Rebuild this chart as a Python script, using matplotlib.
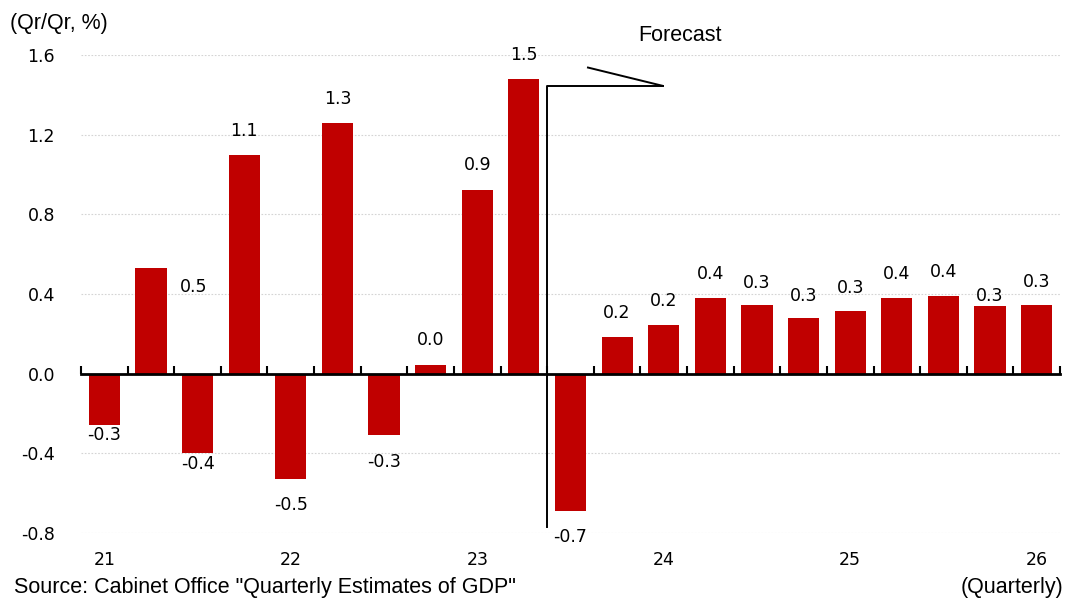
import numpy as np
import matplotlib.pyplot as plt

# Quarterly GDP growth (Qr/Qr, %), 2021 Q1 .. 2026 Q1
values = [-0.26, 0.53, -0.40, 1.10, -0.53, 1.26, -0.31, 0.045, 0.92, 1.48,
          -0.69, 0.186, 0.246, 0.381, 0.346, 0.279, 0.313, 0.378, 0.388, 0.338, 0.347]
year_labels = ["21", "22", "23", "24", "25", "26"]
yticks = [-0.8, -0.4, 0.0, 0.4, 0.8, 1.2, 1.6]

# label offsets (pixels) - Excel put them in slightly odd places
lab_dx = [0] * len(values)
lab_dy = [-10, -19, -11, 24, -26, 24, -27, 25, 25, 24,
          -26, 24, 24, 24, 22, 22, 23, 24, 24, 10, 23]
lab_dx[1] = 43

RED = "#C00000"
NUM_FONT = "DejaVu Sans"
TXT_FONT = "Liberation Sans"
PT = 0.72  # px -> pt at 100 dpi
NUM_SIZE = 12.5
TXT_SIZE = 15.5

fig = plt.figure(figsize=(10.68, 5.99), dpi=100)
ax = fig.add_axes([81 / 1068, 1 - 533 / 599, (1060 - 81) / 1068, (533 - 55) / 599])

x = np.arange(len(values))
ax.bar(x, values, width=0.67, color=RED, zorder=3)

ax.set_xlim(-0.5, len(values) - 0.5)
ax.set_ylim(-0.8, 1.6)

# gridlines (no line at zero, axis is drawn there)
for t in yticks:
    if t != 0:
        ax.axhline(t, color="#d4d4d4", lw=0.8, ls=(0, (1.5, 1.5)), zorder=1)

for s in ["left", "right", "top"]:
    ax.spines[s].set_visible(False)
ax.spines["bottom"].set_position(("data", 0))
ax.spines["bottom"].set_linewidth(2)
ax.spines["bottom"].set_zorder(4)

ax.set_xticks(x[::4])
ax.set_xticklabels([])
ax.tick_params(axis="x", which="major", length=0)
ax.set_xticks(np.arange(len(values) + 1) - 0.5, minor=True)
ax.tick_params(axis="x", which="minor", direction="in", length=6, width=1.5)

ax.set_yticks(yticks)
ax.set_yticklabels([f"{t:.1f}" for t in yticks], fontsize=NUM_SIZE, fontfamily=NUM_FONT)
ax.tick_params(axis="y", length=0, pad=26 * PT)

# year labels under the axis
for xi, lab in zip(x[::4], year_labels):
    ax.annotate(lab, (xi, 0), xycoords=("data", "axes fraction"),
                xytext=(0, -27 * PT), textcoords="offset points",
                ha="center", va="center", fontsize=NUM_SIZE, fontfamily=NUM_FONT)

# data labels
for xi, v, dx, dy in zip(x, values, lab_dx, lab_dy):
    ax.annotate(f"{v:.1f}", (xi, v), xytext=(dx * PT, dy * PT),
                textcoords="offset points", ha="center", va="center",
                fontsize=NUM_SIZE, fontfamily=NUM_FONT, zorder=5)

# forecast marker
xf = len(values) - 11.5
ax.plot([xf, xf, 11.98], [-0.768, 1.445, 1.445], color="black", lw=1.4,
        clip_on=False, zorder=5)
ax.plot([11.98, 10.375], [1.445, 1.537], color="black", lw=1.4,
        clip_on=False, zorder=5)
ax.text(12.35, 1.696, "Forecast", ha="center", va="center", fontsize=TXT_SIZE,
        fontfamily=TXT_FONT, clip_on=False)

fig.text(10 / 1068, 1 - 24 / 599, "(Qr/Qr, %)", ha="left", va="center",
         fontsize=TXT_SIZE, fontfamily=TXT_FONT)
fig.text(14 / 1068, 1 - 587 / 599, 'Source: Cabinet Office "Quarterly Estimates of GDP"',
         ha="left", va="center", fontsize=TXT_SIZE, fontfamily=TXT_FONT)
fig.text(1063 / 1068, 1 - 587 / 599, "(Quarterly)", ha="right", va="center",
         fontsize=TXT_SIZE, fontfamily=TXT_FONT)

fig.savefig("out.png", dpi=100)
